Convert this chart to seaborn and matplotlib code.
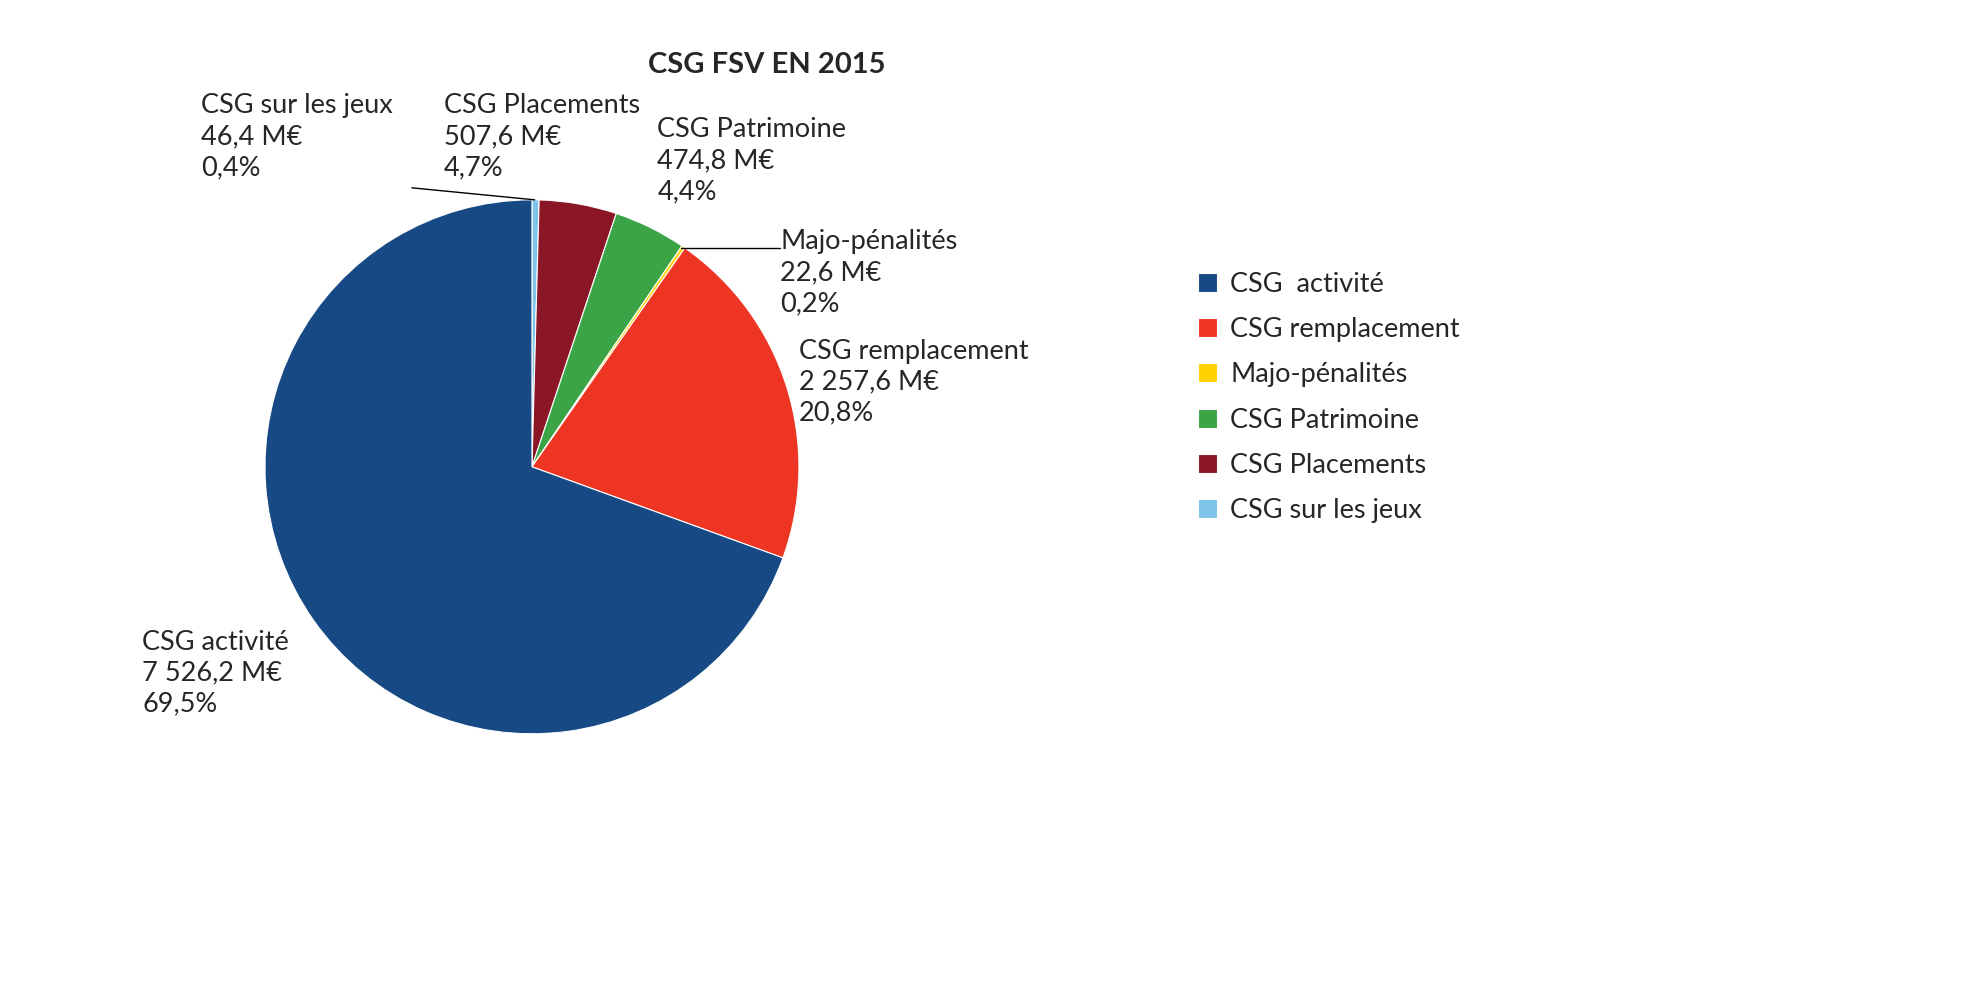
import matplotlib
matplotlib.use("Agg")
import matplotlib.pyplot as plt
import seaborn as sns

sns.set_theme(style="white", font="Lato")

# clockwise from 12 o'clock
categories = ["CSG sur les jeux", "CSG Placements", "CSG Patrimoine",
              "Majo-pénalités", "CSG remplacement", "CSG  activité"]
values = [46.4, 507.6, 474.8, 22.6, 2257.6, 7526.2]
amounts = ["46,4 M€", "507,6 M€", "474,8 M€", "22,6 M€", "2 257,6 M€", "7 526,2 M€"]
shares = ["0,4%", "4,7%", "4,4%", "0,2%", "20,8%", "69,5%"]
colors = ["#7DC3EA", "#8A1626", "#3AA447", "#FFD200", "#EE3524", "#174A84"]
legend_order = ["CSG  activité", "CSG remplacement", "Majo-pénalités",
                "CSG Patrimoine", "CSG Placements", "CSG sur les jeux"]

fig = plt.figure(figsize=(19.82, 9.89), dpi=100)
ax = fig.add_axes([0.1337, 0.258, 0.2694, 0.54])
wedges, _ = ax.pie(values, colors=colors, startangle=90, counterclock=False,
                   wedgeprops=dict(edgecolor="white", linewidth=0.8))
ax.set_aspect("equal")
ax.set_xlim(-1, 1); ax.set_ylim(-1, 1)

label_pos = [(-1.24, 1.40), (-0.33, 1.40), (0.47, 1.31),
             (0.93, 0.89), (1.00, 0.48), (-1.46, -0.61)]
for (x, y), cat, amt, sh in zip(label_pos, categories, amounts, shares):
    ax.text(x, y, f"{cat.replace('  ', ' ')}\n{amt}\n{sh}", ha="left", va="top",
            fontsize=19.5, linespacing=1.3, clip_on=False)

ax.plot([-0.45, 0.01], [1.045, 1.0], color="black", lw=1, clip_on=False)
ax.plot([0.56, 0.93], [0.82, 0.82], color="black", lw=1, clip_on=False)

fig.text(0.387, 0.934, "CSG FSV EN 2015", ha="center", va="center",
         fontsize=21, fontweight="bold")

handles = {c: w for c, w in zip(categories, wedges)}
fig.legend([handles[c] for c in legend_order], legend_order,
           loc="upper left", bbox_to_anchor=(0.592, 0.75), frameon=False,
           fontsize=19.5, handlelength=0.7, handleheight=0.7,
           handletextpad=0.5, labelspacing=0.75)

fig.savefig("out.png", dpi=100)
